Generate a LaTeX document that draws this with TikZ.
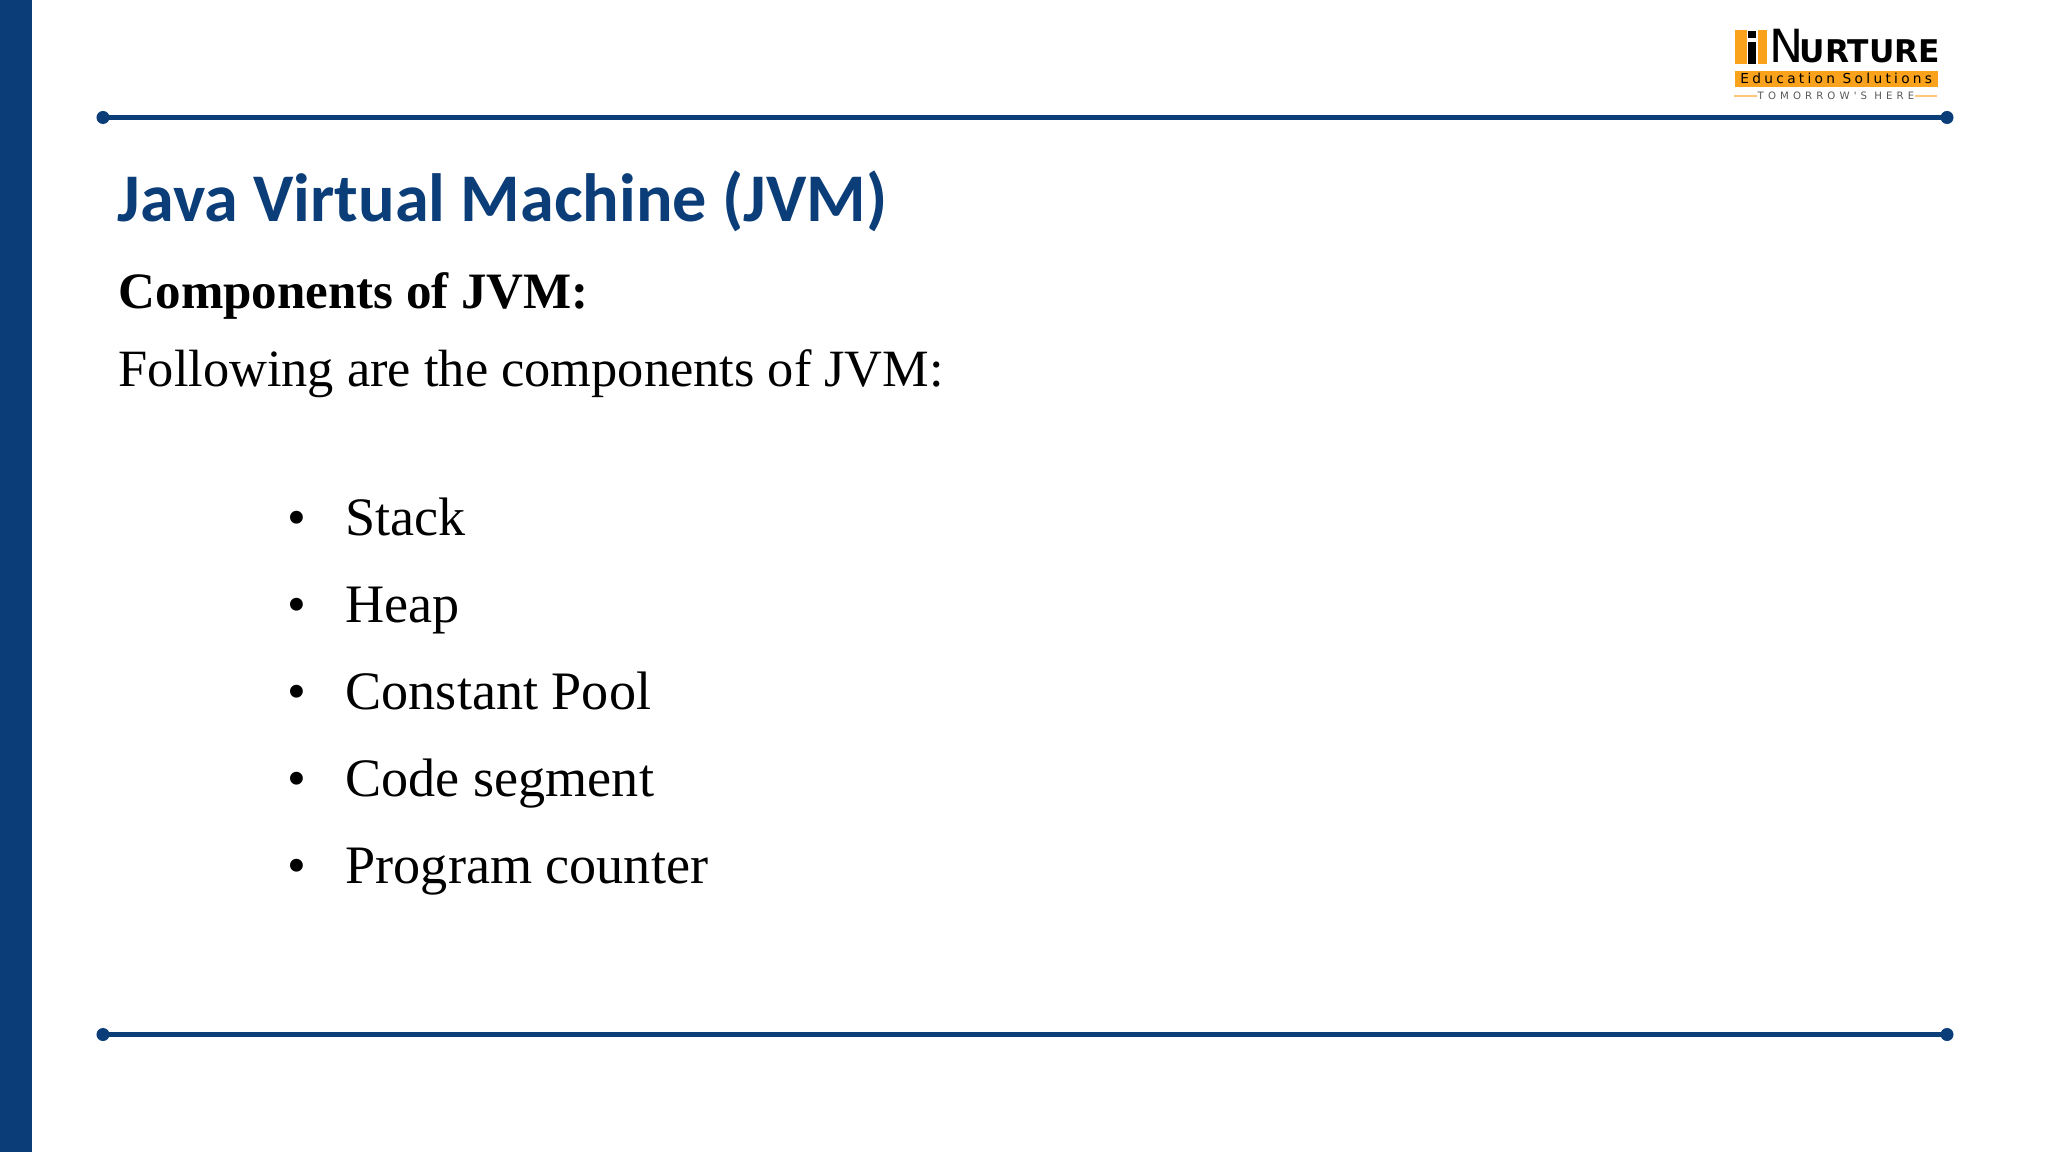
\documentclass[tikz,border=0pt]{standalone}
\usepackage{fontspec}
\setmainfont{Liberation Serif}
\newfontfamily\titlefont{Carlito}
\newfontfamily\logofont{DejaVu Sans}
\newfontfamily\logospaced[LetterSpace=24]{DejaVu Sans}
\newfontfamily\tagspaced[LetterSpace=40]{DejaVu Sans}
\definecolor{jvmblue}{HTML}{0B3D78}
\definecolor{logoorange}{HTML}{FAA21B}
\begin{document}
\begin{tikzpicture}[x=0.01cm,y=-0.01cm,
	heading/.style={anchor=base west, inner sep=0pt, text=jvmblue, font=\titlefont\bfseries\fontsize{19.4}{19.4}\selectfont},
	body/.style={anchor=base west, inner sep=0pt, font=\fontsize{14.9}{14.9}\selectfont},
	entry/.style={anchor=base west, inner sep=0pt, font=\fontsize{15.4}{15.4}\selectfont, label={[anchor=base east, inner sep=0pt, font=\fontsize{15.3}{15.3}\selectfont, xshift=-0.38cm]base west:\textbullet}},
	dot/.style={circle, fill=jvmblue, inner sep=0pt, minimum size=0.13cm},
	rule/.style={draw=jvmblue, line width=0.05cm},
	bar/.style={fill=logoorange, inner sep=0pt, anchor=north west},
	>=stealth]
	
	\useasboundingbox (0,0) rectangle (2048,1152);
	\fill[jvmblue] (0,0) rectangle (32,1152);
	
	%Nodes
	\node[dot] (topl) at (103,117.5) {};
	\node[dot] (topr) at (1947,117.5) {};
	\node[dot] (botl) at (103,1034.5) {};
	\node[dot] (botr) at (1947,1034.5) {};
	\node[heading] (title) at (117,222) {Java Virtual Machine (JVM)};
	\node[body, font=\bfseries\fontsize{14.5}{14.5}\selectfont] (sub) at (118,309) {Components of JVM:};
	\node[body] (intro) at (118,387) {Following are the components of JVM:};
	\node[entry] (stack) at (345,535) {Stack};
	\node[entry] (heap) at (345,623) {Heap};
	\node[entry] (pool) at (345,709) {Constant Pool};
	\node[entry] (code) at (345,796) {Code segment};
	\node[entry] (counter) at (345,883) {Program counter};
	
	%Logo
	\node[bar, minimum width=0.12cm, minimum height=0.34cm] (barl) at (1734,29) {};
	\node[bar, minimum width=0.09cm, minimum height=0.34cm] (barr) at (1757,29) {};
	\node[anchor=north west, fill=black, inner sep=0pt, minimum width=0.08cm, minimum height=0.22cm] (stem) at (1747,41) {};
	\node[anchor=north west, fill=black, inner sep=0pt, minimum width=0.08cm, minimum height=0.07cm] (point) at (1747,30) {};
	\node[anchor=base west, inner sep=0pt, font=\logofont\fontsize{13}{13}\selectfont] (brandn) at (1769,63) {N};
	\node[anchor=base west, inner sep=0pt, font=\logofont\bfseries\fontsize{8.9}{8.9}\selectfont] (brand) at (1799,63) {URTURE};
	\node[bar, minimum width=2.03cm, minimum height=0.16cm] (band) at (1734,70) {};
	\node[inner sep=0pt, font=\logospaced\fontsize{3.9}{3.9}\selectfont] (edu) at (band.center) {Education Solutions};
	\node[inner sep=0pt, font=\tagspaced\fontsize{2.9}{2.9}\selectfont, text=black!65] (tag) at (1836,96) {TOMORROW'S HERE};
	\coordinate (tagl) at (1734,96);
	\coordinate (tagr) at (1937,96);
	
	%Lines
	\draw[rule] (topl.center) -- (topr.center);
	\draw[rule] (botl.center) -- (botr.center);
	\draw[logoorange!60, line width=0.3pt] (tagl) -- (tag.west);
	\draw[logoorange!60, line width=0.3pt] (tag.east) -- (tagr);
\end{tikzpicture}
\end{document}
